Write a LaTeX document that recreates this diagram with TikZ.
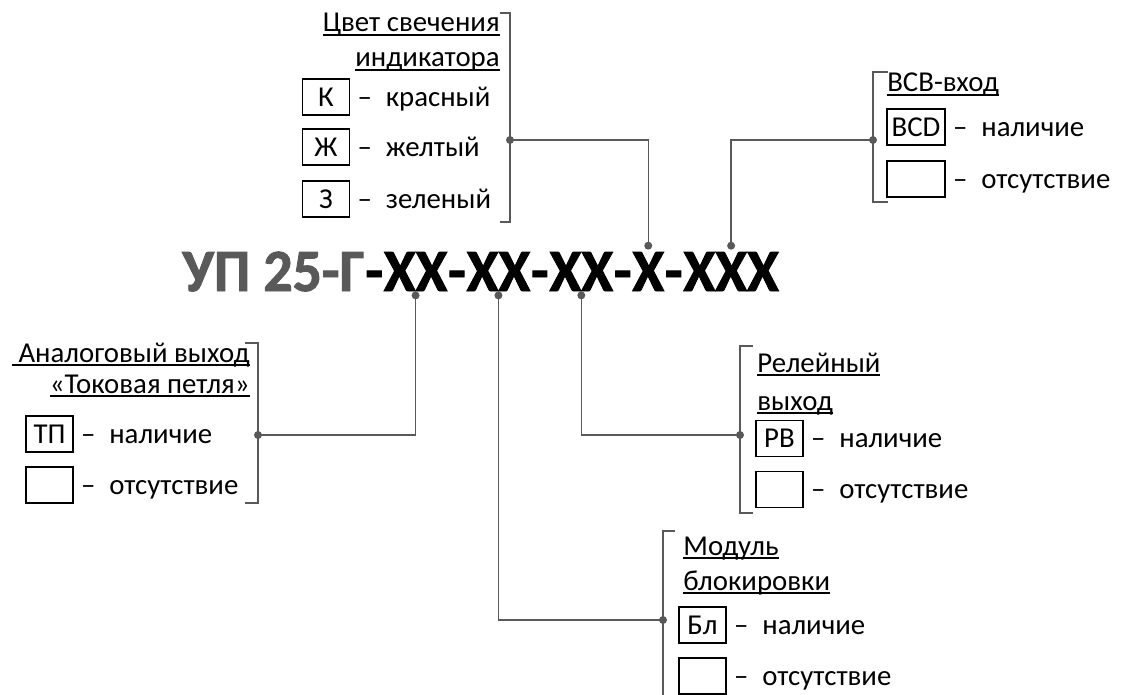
\documentclass[tikz,border=0pt]{standalone}
\usepackage{fontspec}
\setmainfont{Carlito}
\usetikzlibrary{positioning}

\definecolor{linegray}{RGB}{89,89,89}
\definecolor{titlegray}{RGB}{89,89,89}
\newsavebox{\ulbox}
\newcommand{\ulin}[1]{\sbox{\ulbox}{#1}\rlap{\rule[-1.8pt]{\wd\ulbox}{0.6pt}}\usebox{\ulbox}}

\begin{document}
\begin{tikzpicture}[x=0.5pt, y=-0.5pt,
    txt/.style={font=\fontsize{14.4}{17}\selectfont, inner sep=0pt},
    head/.style={txt, anchor=base east},
    headl/.style={txt, anchor=base west},
    note/.style={txt, anchor=base west, xshift=3.5pt},
    codebox/.style={draw=black, line width=0.6pt, minimum width=23.5pt,
        minimum height=18pt, inner sep=2pt, text height=9.2pt, text depth=0pt,
        font=\fontsize{14.4}{17}\selectfont},
    title/.style={font=\fontsize{30}{36}\selectfont\bfseries\addfontfeatures{FakeBold=1.6, FakeStretch=0.962},
        inner sep=0pt, anchor=base west},
    wire/.style={linegray, line width=0.75pt},
    joint/.style={fill=linegray}]

\useasboundingbox (0,0) rectangle (1123,695);

% Designation
\node[title, titlegray] (x0) at (182,291) {УП 25-Г};
\foreach \grp [count=\i, remember=\i as \j (initially 0)] in {ХХ,ХХ,ХХ,Х,ХХХ} {
    \node[title] (d\i) at (x\j.base east) {-};
    \node[title] (x\i) at (d\i.base east) {\grp};
}
\coordinate (tA) at ([yshift=-2pt]x1.south);
\coordinate (tB) at ([yshift=-2pt]x2.south);
\coordinate (tC) at ([yshift=-2pt]x3.south);
\coordinate (tD) at ([yshift=3pt]x4.north);
\coordinate (tE) at ([yshift=3pt]x5.north);

% Indicator colour
\node[head] (colHead1) at (500,32) {\ulin{Цвет свечения}};
\node[head] (colHead2) at (500,67) {\ulin{индикатора}};
\foreach \c/\t/\y [count=\i] in {К/красный/97, Ж/желтый/147, З/зеленый/199} {
    \node[codebox] (colBox\i) at (326,\y) {\c};
    \node[note] (colTxt\i) at (colBox\i.base east) {–\hspace{7pt}\t};
}
\draw[wire] (500,13) -- (510,13) -- (510,222) -- (500,222);
\coordinate (jCol) at (510,140);

% BCD input
\node[headl] (bcdHead) at (887,92) {\ulin{ВСВ-вход}};
\foreach \c/\t/\y [count=\i] in {BCD/наличие/127, {}/отсутствие/179} {
    \node[codebox, minimum width=29pt] (bcdBox\i) at (916,\y) {\c};
    \node[note] (bcdTxt\i) at (bcdBox\i.base east) {–\hspace{7pt}\t};
}
\draw[wire] (888,72) -- (873,72) -- (873,202) -- (888,202);
\coordinate (jBcd) at (873,140);

% Analog output
\node[head] (anHead1) at (250,362) {\ulin{\ Аналоговый выход}};
\node[head] (anHead2) at (250,393) {\ulin{«Токовая петля»}};
\foreach \c/\t/\y [count=\i] in {ТП/наличие/434, {}/отсутствие/485} {
    \node[codebox] (anBox\i) at (49.5,\y) {\c};
    \node[note] (anTxt\i) at (anBox\i.base east) {–\hspace{7pt}\t};
}
\draw[wire] (245,343) -- (258,343) -- (258,503) -- (245,503);
\coordinate (jAn) at (258,435);

% Relay output
\node[headl] (relHead1) at (757,372) {\ulin{Релейный}};
\node[headl] (relHead2) at (757,410) {\ulin{выход}};
\foreach \c/\t/\y [count=\i] in {РВ/наличие/438.5, {}/отсутствие/489.5} {
    \node[codebox] (relBox\i) at (779.5,\y) {\c};
    \node[note] (relTxt\i) at (relBox\i.base east) {–\hspace{7pt}\t};
}
\draw[wire] (753,346) -- (740,346) -- (740,513) -- (753,513);
\coordinate (jRel) at (740,435);

% Blocking module
\node[headl] (blkHead1) at (683,555) {\ulin{Модуль}};
\node[headl] (blkHead2) at (683,590) {\ulin{блокировки}};
\foreach \c/\t/\y [count=\i] in {Бл/наличие/625, {}/отсутствие/676} {
    \node[codebox] (blkBox\i) at (702.5,\y) {\c};
    \node[note] (blkTxt\i) at (blkBox\i.base east) {–\hspace{7pt}\t};
}
\draw[wire] (675,531) -- (663,531) -- (663,710);
\coordinate (jBlk) at (663,620);

% Connectors
\draw[wire] (jCol) -| (tD);
\draw[wire] (jBcd) -| (tE);
\draw[wire] (jAn) -| (tA);
\draw[wire] (jBlk) -| (tB);
\draw[wire] (jRel) -| (tC);
\foreach \p in {jCol,jBcd,jAn,jRel,jBlk,tA,tB,tC,tD,tE}
    \fill[joint] (\p) circle (2pt);

\end{tikzpicture}
\end{document}
